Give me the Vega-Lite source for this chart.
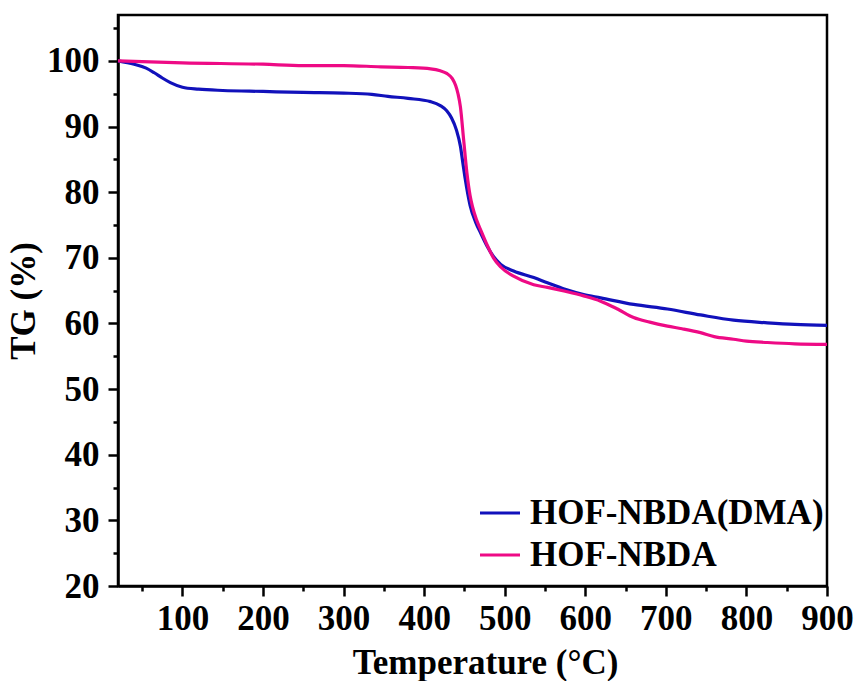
{
  "$schema": "https://vega.github.io/schema/vega-lite/v6.json",
  "width": 709,
  "height": 571,
  "autosize": {"type": "none"},
  "padding": {"left": 118, "top": 15, "right": 28, "bottom": 95},
  "background": "white",
  "config": {
    "view": {"stroke": "black", "strokeWidth": 2.5},
    "font": "Times New Roman, Liberation Serif, serif",
    "axis": {
      "domainColor": "black", "domainWidth": 2.5, "tickColor": "black", "tickWidth": 2.5,
      "labelFont": "Times New Roman, Liberation Serif, serif", "labelFontWeight": "bold", "labelFontSize": 35, "labelColor": "black",
      "titleFont": "Times New Roman, Liberation Serif, serif", "titleFontWeight": "bold", "titleFontSize": 35, "titleColor": "black",
      "grid": false, "labelFlush": false, "labelOverlap": false
    }
  },
  "data": {"values": [
    {"T": 20, "TG": 100, "s": "HOF-NBDA(DMA)"},
    {"T": 40, "TG": 99.5, "s": "HOF-NBDA(DMA)"},
    {"T": 55, "TG": 98.9, "s": "HOF-NBDA(DMA)"},
    {"T": 65, "TG": 98.2, "s": "HOF-NBDA(DMA)"},
    {"T": 75, "TG": 97.4, "s": "HOF-NBDA(DMA)"},
    {"T": 85, "TG": 96.7, "s": "HOF-NBDA(DMA)"},
    {"T": 100, "TG": 96.0, "s": "HOF-NBDA(DMA)"},
    {"T": 120, "TG": 95.7, "s": "HOF-NBDA(DMA)"},
    {"T": 150, "TG": 95.5, "s": "HOF-NBDA(DMA)"},
    {"T": 200, "TG": 95.35, "s": "HOF-NBDA(DMA)"},
    {"T": 250, "TG": 95.2, "s": "HOF-NBDA(DMA)"},
    {"T": 300, "TG": 95.1, "s": "HOF-NBDA(DMA)"},
    {"T": 335, "TG": 94.9, "s": "HOF-NBDA(DMA)"},
    {"T": 355, "TG": 94.6, "s": "HOF-NBDA(DMA)"},
    {"T": 380, "TG": 94.3, "s": "HOF-NBDA(DMA)"},
    {"T": 408, "TG": 93.8, "s": "HOF-NBDA(DMA)"},
    {"T": 420, "TG": 93.2, "s": "HOF-NBDA(DMA)"},
    {"T": 428, "TG": 92.4, "s": "HOF-NBDA(DMA)"},
    {"T": 434, "TG": 91.3, "s": "HOF-NBDA(DMA)"},
    {"T": 440, "TG": 89.5, "s": "HOF-NBDA(DMA)"},
    {"T": 445, "TG": 87.0, "s": "HOF-NBDA(DMA)"},
    {"T": 448, "TG": 84.5, "s": "HOF-NBDA(DMA)"},
    {"T": 451, "TG": 82.0, "s": "HOF-NBDA(DMA)"},
    {"T": 457, "TG": 78.0, "s": "HOF-NBDA(DMA)"},
    {"T": 464, "TG": 75.4, "s": "HOF-NBDA(DMA)"},
    {"T": 470, "TG": 73.8, "s": "HOF-NBDA(DMA)"},
    {"T": 478, "TG": 71.8, "s": "HOF-NBDA(DMA)"},
    {"T": 486, "TG": 70.2, "s": "HOF-NBDA(DMA)"},
    {"T": 495, "TG": 69.0, "s": "HOF-NBDA(DMA)"},
    {"T": 511, "TG": 68.0, "s": "HOF-NBDA(DMA)"},
    {"T": 536, "TG": 67.0, "s": "HOF-NBDA(DMA)"},
    {"T": 553, "TG": 66.2, "s": "HOF-NBDA(DMA)"},
    {"T": 575, "TG": 65.2, "s": "HOF-NBDA(DMA)"},
    {"T": 598, "TG": 64.4, "s": "HOF-NBDA(DMA)"},
    {"T": 619, "TG": 63.9, "s": "HOF-NBDA(DMA)"},
    {"T": 660, "TG": 62.9, "s": "HOF-NBDA(DMA)"},
    {"T": 702, "TG": 62.2, "s": "HOF-NBDA(DMA)"},
    {"T": 743, "TG": 61.3, "s": "HOF-NBDA(DMA)"},
    {"T": 784, "TG": 60.5, "s": "HOF-NBDA(DMA)"},
    {"T": 826, "TG": 60.1, "s": "HOF-NBDA(DMA)"},
    {"T": 860, "TG": 59.85, "s": "HOF-NBDA(DMA)"},
    {"T": 900, "TG": 59.7, "s": "HOF-NBDA(DMA)"},
    {"T": 20, "TG": 100, "s": "HOF-NBDA"},
    {"T": 100, "TG": 99.7, "s": "HOF-NBDA"},
    {"T": 200, "TG": 99.5, "s": "HOF-NBDA"},
    {"T": 250, "TG": 99.3, "s": "HOF-NBDA"},
    {"T": 300, "TG": 99.3, "s": "HOF-NBDA"},
    {"T": 346, "TG": 99.1, "s": "HOF-NBDA"},
    {"T": 380, "TG": 99.0, "s": "HOF-NBDA"},
    {"T": 408, "TG": 98.8, "s": "HOF-NBDA"},
    {"T": 420, "TG": 98.5, "s": "HOF-NBDA"},
    {"T": 428, "TG": 98.1, "s": "HOF-NBDA"},
    {"T": 435, "TG": 97.3, "s": "HOF-NBDA"},
    {"T": 439, "TG": 96.3, "s": "HOF-NBDA"},
    {"T": 442, "TG": 95.0, "s": "HOF-NBDA"},
    {"T": 445, "TG": 93.0, "s": "HOF-NBDA"},
    {"T": 449, "TG": 88.0, "s": "HOF-NBDA"},
    {"T": 453, "TG": 83.0, "s": "HOF-NBDA"},
    {"T": 457, "TG": 79.5, "s": "HOF-NBDA"},
    {"T": 460, "TG": 77.8, "s": "HOF-NBDA"},
    {"T": 465, "TG": 75.8, "s": "HOF-NBDA"},
    {"T": 470, "TG": 74.3, "s": "HOF-NBDA"},
    {"T": 478, "TG": 72.0, "s": "HOF-NBDA"},
    {"T": 486, "TG": 70.0, "s": "HOF-NBDA"},
    {"T": 495, "TG": 68.6, "s": "HOF-NBDA"},
    {"T": 511, "TG": 67.2, "s": "HOF-NBDA"},
    {"T": 536, "TG": 65.9, "s": "HOF-NBDA"},
    {"T": 553, "TG": 65.5, "s": "HOF-NBDA"},
    {"T": 575, "TG": 64.9, "s": "HOF-NBDA"},
    {"T": 598, "TG": 64.2, "s": "HOF-NBDA"},
    {"T": 619, "TG": 63.4, "s": "HOF-NBDA"},
    {"T": 640, "TG": 62.2, "s": "HOF-NBDA"},
    {"T": 660, "TG": 60.9, "s": "HOF-NBDA"},
    {"T": 680, "TG": 60.2, "s": "HOF-NBDA"},
    {"T": 702, "TG": 59.6, "s": "HOF-NBDA"},
    {"T": 720, "TG": 59.2, "s": "HOF-NBDA"},
    {"T": 743, "TG": 58.6, "s": "HOF-NBDA"},
    {"T": 760, "TG": 58.0, "s": "HOF-NBDA"},
    {"T": 784, "TG": 57.6, "s": "HOF-NBDA"},
    {"T": 800, "TG": 57.3, "s": "HOF-NBDA"},
    {"T": 826, "TG": 57.1, "s": "HOF-NBDA"},
    {"T": 860, "TG": 56.9, "s": "HOF-NBDA"},
    {"T": 900, "TG": 56.8, "s": "HOF-NBDA"}
  ]},
  "mark": {"type": "line", "strokeWidth": 3.2, "interpolate": "monotone"},
  "encoding": {
    "x": {
      "field": "T", "type": "quantitative",
      "scale": {"domain": [20, 900], "nice": false, "zero": false},
      "axis": {
        "title": "Temperature (°C)",
        "values": [50, 100, 150, 200, 250, 300, 350, 400, 450, 500, 550, 600, 650, 700, 750, 800, 850, 900],
        "labelExpr": "datum.value % 100 === 0 ? datum.value : ''",
        "tickSize": {"condition": {"test": "datum.value % 100 === 0", "value": 10}, "value": 5},
        "labelPadding": 5,
        "titlePadding": 9,
        "titleX": 367
      }
    },
    "y": {
      "field": "TG", "type": "quantitative",
      "scale": {"domain": [20, 107], "nice": false, "zero": false},
      "axis": {
        "title": "TG (%)",
        "values": [20, 25, 30, 35, 40, 45, 50, 55, 60, 65, 70, 75, 80, 85, 90, 95, 100, 105],
        "labelExpr": "datum.value % 10 === 0 ? datum.value : ''",
        "tickSize": {"condition": {"test": "datum.value % 10 === 0", "value": 10}, "value": 5},
        "labelPadding": 9,
        "titlePadding": 5
      }
    },
    "color": {
      "field": "s", "type": "nominal",
      "scale": {"domain": ["HOF-NBDA(DMA)", "HOF-NBDA"], "range": ["#1111BB", "#EE0A85"]},
      "legend": {
        "title": null, "orient": "none", "legendX": 360, "legendY": 476,
        "symbolType": "stroke", "symbolSize": 1600, "symbolStrokeWidth": 3.2,
        "labelFont": "Times New Roman, Liberation Serif, serif", "labelFontWeight": "bold", "labelFontSize": 35, "labelColor": "black",
        "labelOffset": 8, "rowPadding": 2, "padding": 0, "labelLimit": 400
      }
    }
  }
}
